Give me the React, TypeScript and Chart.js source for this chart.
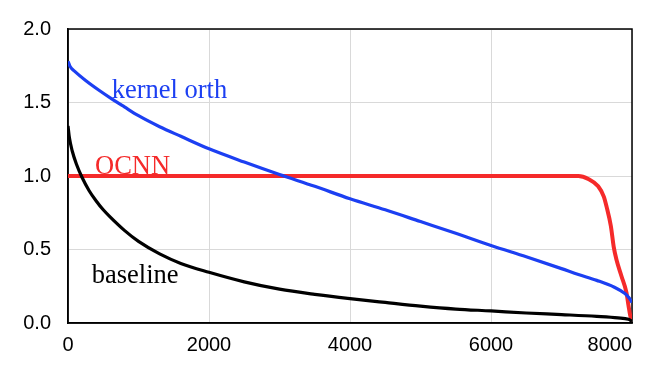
import React, { useEffect, useRef } from "react";
import { Chart, registerables } from "chart.js";

Chart.register(...registerables);

// ---- data ----
const kernelX = [0, 30, 100, 250, 450, 620, 800, 1000, 1300, 1600, 2000, 2500, 3000, 3500, 4000, 4500, 5000, 5500, 6000, 6500, 7000, 7240, 7500, 7750, 7900, 7960, 8000];
const kernelY = [1.78, 1.745, 1.71, 1.65, 1.58, 1.525, 1.47, 1.41, 1.335, 1.27, 1.185, 1.095, 1.01, 0.93, 0.845, 0.77, 0.69, 0.61, 0.527, 0.45, 0.37, 0.33, 0.29, 0.243, 0.2, 0.17, 0.14];

const ocnnX = [0, 1000, 2000, 3000, 4000, 5000, 6000, 7000, 7240, 7380, 7520, 7600, 7640, 7700, 7740, 7780, 7850, 7920, 7950, 7975, 8000];
const ocnnY = [1.0, 1.0, 1.0, 1.0, 1.0, 1.0, 1.0, 1.0, 1.0, 0.98, 0.93, 0.86, 0.79, 0.66, 0.52, 0.43, 0.32, 0.21, 0.12, 0.05, 0.01];

const baseX = [0, 20, 60, 120, 200, 300, 400, 500, 600, 800, 1000, 1300, 1600, 2000, 2500, 3000, 3500, 4000, 4500, 5000, 5500, 6000, 6500, 7000, 7500, 7800, 7950, 8000];
const baseY = [1.34, 1.26, 1.17, 1.08, 0.99, 0.9, 0.83, 0.77, 0.72, 0.63, 0.555, 0.47, 0.405, 0.345, 0.28, 0.23, 0.195, 0.166, 0.14, 0.115, 0.095, 0.082, 0.068, 0.057, 0.045, 0.035, 0.025, 0.012];

const xTicks = [0, 2000, 4000, 6000, 8000];
const yTicks = [0, 0.5, 1.0, 1.5, 2.0];

const seriesNames = ["kernel orth", "OCNN", "baseline"];
const seriesColors = ["#1c3ff2", "#f52a2a", "#000000"];
const labelX = [620, 383, 336];
const labelY = [1.53, 1.015, 0.271];

const toPoints = (xs: number[], ys: number[]) => xs.map((x, i) => ({ x, y: ys[i] }));

export default function App() {
  const ref = useRef<HTMLCanvasElement | null>(null);

  useEffect(() => {
    if (!ref.current) return;

    const framePlugin = {
      id: "frame",
      beforeDraw(chart: any) {
        const xs = chart.scales.x;
        const items = xs.getLabelItems();
        if (items && items.length) {
          items[0].options.textAlign = "center";
        }
      },
      beforeDatasetsDraw(chart: any) {
        const { ctx, chartArea } = chart;
        ctx.save();
        ctx.strokeStyle = "#000";
        ctx.lineWidth = 1.5;
        ctx.strokeRect(chartArea.left, chartArea.top, chartArea.right - chartArea.left, chartArea.bottom - chartArea.top);
        ctx.restore();
      },
      afterDatasetsDraw(chart: any) {
        const { ctx } = chart;
        const xs = chart.scales.x;
        const ys = chart.scales.y;
        ctx.save();
        ctx.font = '26.5px "Liberation Serif", "Times New Roman", serif';
        ctx.textAlign = "left";
        ctx.textBaseline = "alphabetic";
        seriesNames.forEach((name, i) => {
          ctx.fillStyle = seriesColors[i];
          ctx.fillText(name, xs.getPixelForValue(labelX[i]), ys.getPixelForValue(labelY[i]));
        });
        ctx.restore();
      },
    };

    const chart = new Chart(ref.current, {
      type: "line",
      data: {
        datasets: [
          {
            label: seriesNames[0],
            data: toPoints(kernelX, kernelY),
            borderColor: seriesColors[0],
            borderWidth: 3.2,
            pointRadius: 0,
            cubicInterpolationMode: "monotone",
            fill: false,
          },
          {
            label: seriesNames[2],
            data: toPoints(baseX, baseY),
            borderColor: seriesColors[2],
            borderWidth: 3.2,
            pointRadius: 0,
            cubicInterpolationMode: "monotone",
            fill: false,
          },
          {
            label: seriesNames[1],
            data: toPoints(ocnnX, ocnnY),
            borderColor: seriesColors[1],
            borderWidth: 4,
            pointRadius: 0,
            cubicInterpolationMode: "monotone",
            fill: false,
          },
        ],
      },
      options: {
        animation: false,
        responsive: false,
        devicePixelRatio: 1,
        layout: { padding: { top: 28, right: 20, left: 0, bottom: 0 } },
        plugins: { legend: { display: false }, tooltip: { enabled: false } },
        scales: {
          x: {
            type: "linear",
            min: 0,
            max: 8000,
            afterBuildTicks: (s: any) => {
              s.ticks = xTicks.map((v) => ({ value: v }));
            },
            afterFit: (s: any) => {
              s.height = 51;
              s.paddingLeft = 0;
              s.paddingRight = 0;
            },
            grid: { color: "#d9d9d9", lineWidth: 1, drawTicks: false },
            border: { color: "#000", width: 1.5 },
            ticks: {
              align: "inner",
              padding: 10,
              color: "#000",
              font: { family: '"Liberation Sans", Arial, sans-serif', size: 20 },
              maxRotation: 0,
              callback: (v: any) => String(v),
            },
          },
          y: {
            type: "linear",
            min: 0,
            max: 2,
            afterBuildTicks: (s: any) => {
              s.ticks = yTicks.map((v) => ({ value: v }));
            },
            afterFit: (s: any) => {
              s.width = 68;
            },
            grid: { color: "#d9d9d9", lineWidth: 1, drawTicks: false },
            border: { color: "#000", width: 1.5 },
            ticks: {
              padding: 17,
              color: "#000",
              font: { family: '"Liberation Sans", Arial, sans-serif', size: 20 },
              callback: (v: any) => Number(v).toFixed(1),
            },
          },
        },
      },
      plugins: [framePlugin],
    } as any);

    return () => chart.destroy();
  }, []);

  return (
    <div style={{ position: "absolute", left: 0, top: 0, width: 652, height: 374, background: "#fff" }}>
      <canvas ref={ref} width={652} height={374} style={{ width: 652, height: 374 }} />
    </div>
  );
}
